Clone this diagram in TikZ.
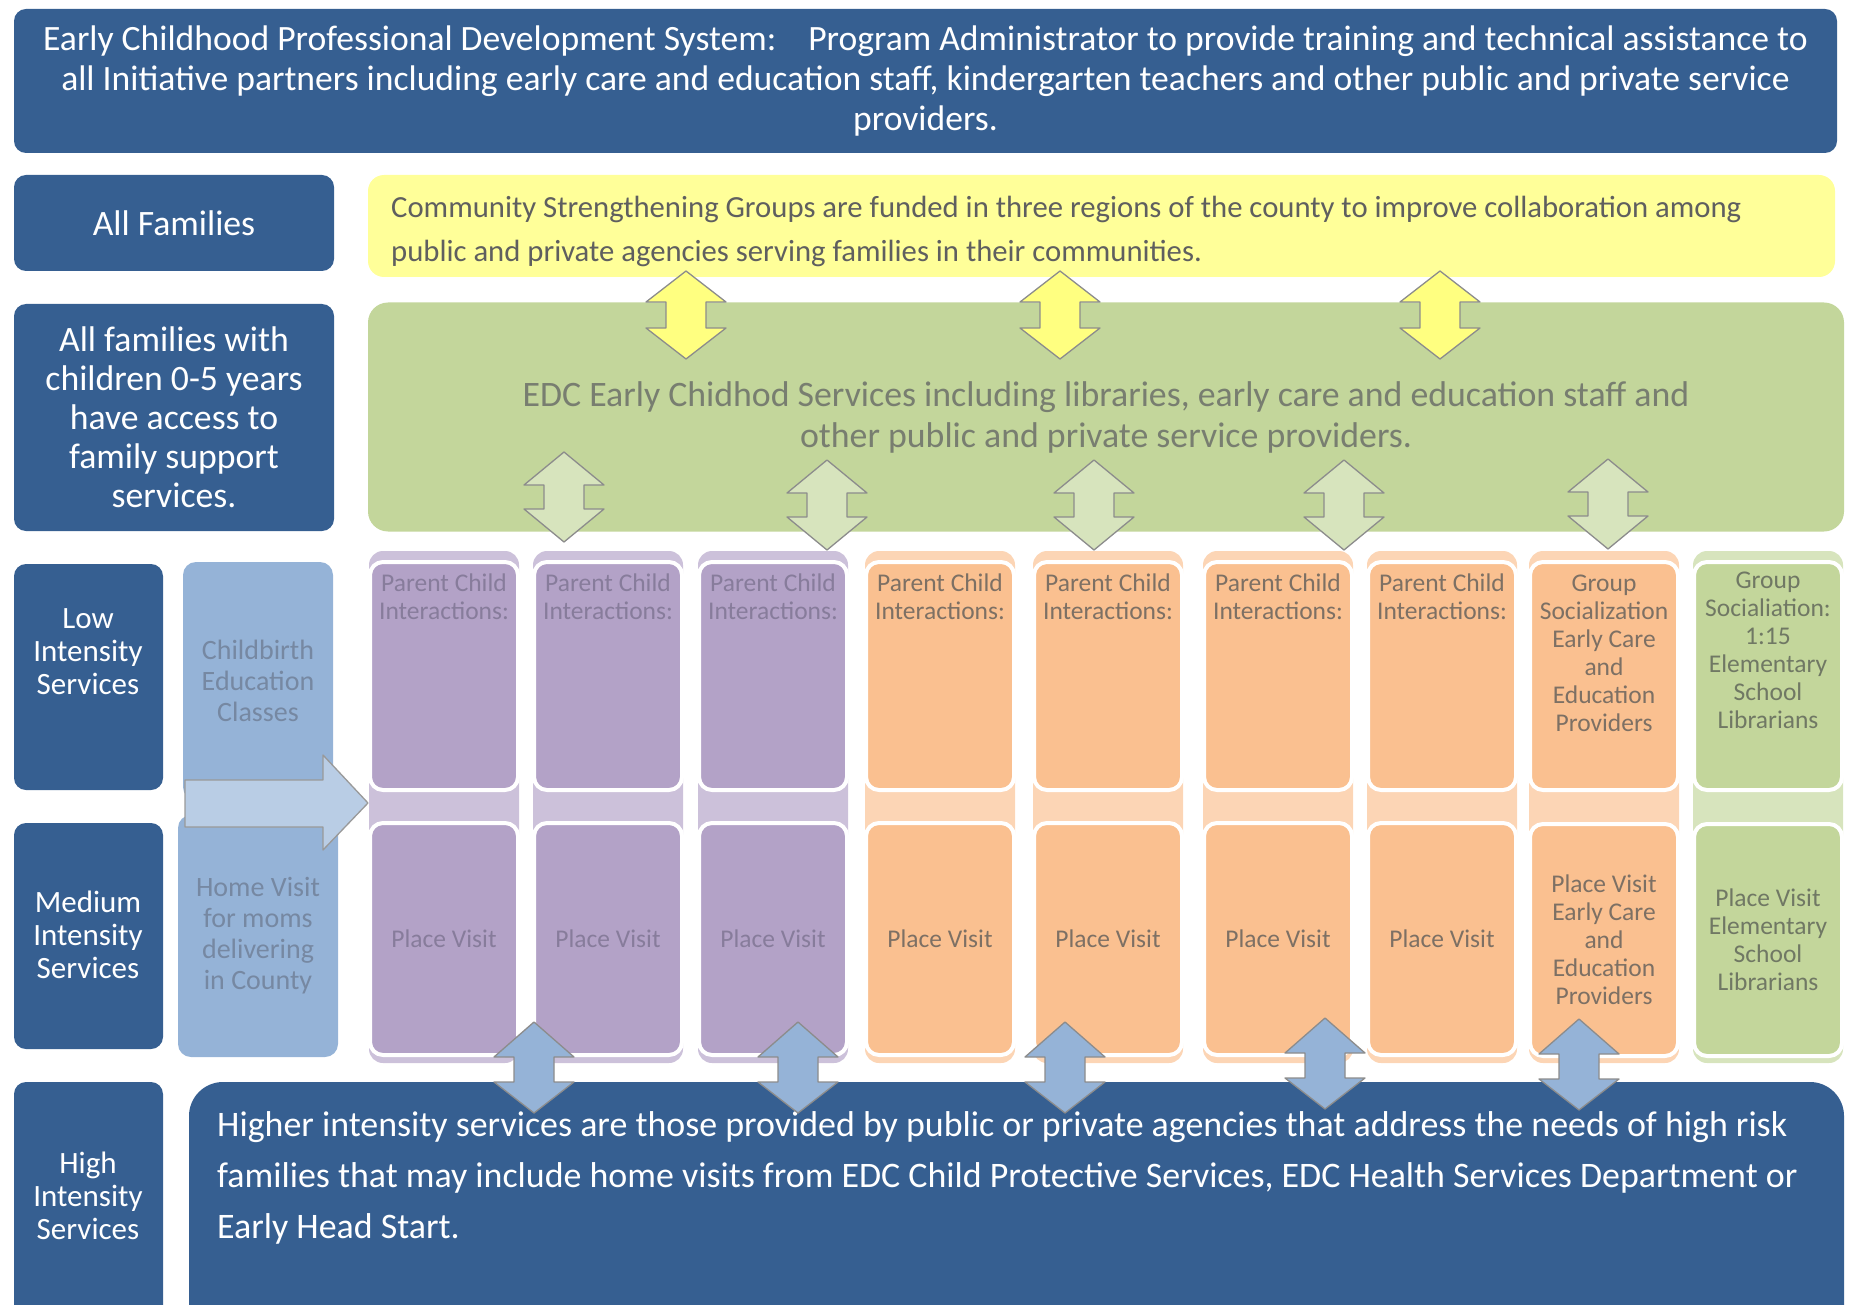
\documentclass[tikz,border=0pt]{standalone}
\usepackage{fontspec}
\setmainfont{Carlito}

\begin{document}
\begin{tikzpicture}[x=1pt,y=-1pt,line join=round,
  navybox/.style={fill=navy,rounded corners=12pt,text=white,align=center,inner sep=0pt},
  cell/.style={draw=white,line width=4pt,rounded corners=13pt,minimum width=148pt,
    align=center,inner sep=0pt,font=\fontsize{25.5}{28}\selectfont},
  celltext/.style={align=center,inner sep=0pt,font=\fontsize{25.5}{28}\selectfont},
  labtext/.style={text=white,align=center,inner sep=0pt,font=\fontsize{31}{33}\selectfont},
  dblarrow/.style={draw=black!45,line width=1.3pt}]
  \definecolor{navy}{RGB}{54,95,145}
  \definecolor{yelbox}{RGB}{255,255,153}
  \definecolor{yelarrow}{RGB}{255,255,128}
  \definecolor{greenbox}{RGB}{195,214,155}
  \definecolor{greenarrow}{RGB}{215,228,189}
  \definecolor{purp}{RGB}{179,162,199}
  \definecolor{purpband}{RGB}{204,193,218}
  \definecolor{orng}{RGB}{250,192,144}
  \definecolor{orngband}{RGB}{252,213,181}
  \definecolor{lblue}{RGB}{149,179,215}
  \definecolor{lbluearrow}{RGB}{185,205,229}
  \definecolor{yeltext}{RGB}{95,95,95}
  \definecolor{greentext}{RGB}{120,126,112}
  \definecolor{lbluetext}{RGB}{118,136,162}
  \definecolor{purptext}{RGB}{135,124,155}
  \definecolor{orngtext}{RGB}{125,112,100}
  \definecolor{grntext}{RGB}{112,120,100}

  \useasboundingbox (0,0) rectangle (1849,1305);
  \clip (0,0) rectangle (1849,1305);

  % top banner
  \node[navybox,minimum width=1823pt,minimum height=144pt,
    font=\fontsize{35.6}{40}\selectfont] (pds) at (925.5,81)
    {Early Childhood Professional Development System:\hspace{0.6em} Program Administrator to provide training and technical assistance to\\
     all Initiative partners including early care and education staff, kindergarten teachers and other public and private service\\
     providers.};

  % left column: target groups
  \node[navybox,minimum width=320pt,minimum height=96pt,
    font=\fontsize{35.7}{39}\selectfont] (allfam) at (174,223) {All Families};
  \node[navybox,minimum width=320pt,minimum height=227pt,
    font=\fontsize{35.7}{39}\selectfont] (fam05) at (174,417.5)
    {All families with\\children 0-5 years\\have access to\\family support\\services.};

  % community groups and EDC services
  \node[fill=yelbox,rounded corners=16pt,minimum width=1467pt,minimum height=102pt] (csg) at (1101.5,226) {};
  \node[anchor=west,align=left,inner sep=0pt,text=yeltext,font=\fontsize{30.7}{44}\selectfont] (csgtxt) at (391,231.5)
    {Community Strengthening Groups are funded in three regions of the county to improve collaboration among\\
     public and private agencies serving families in their communities.};
  \node[fill=greenbox,rounded corners=20pt,minimum width=1476pt,minimum height=229pt,
    text=greentext,align=center,font=\fontsize{35.8}{41}\selectfont] (edc) at (1106,417)
    {EDC Early Chidhod Services including libraries, early care and education staff and\\
     other public and private service providers.};

  % ---- service columns ----
  \foreach \n/\x/\fc/\bc/\tc in {1/444/purp/purpband/purptext, 2/608/purp/purpband/purptext,
      3/773/purp/purpband/purptext, 4/940/orng/orngband/orngtext, 5/1108/orng/orngband/orngtext,
      6/1278/orng/orngband/orngtext, 7/1442/orng/orngband/orngtext}{
    \fill[\bc,rounded corners=14pt] (\x-75,551) rectangle (\x+75,1063);
    \node[cell,fill=\fc,minimum height=228pt] (low\n) at (\x,676) {};
    \node[cell,fill=\fc,minimum height=232pt,text=\tc] (med\n) at (\x,939) {Place Visit};
    \node[celltext,text=\tc] (lowtxt\n) at (\x,597) {Parent Child\\Interactions:};
  }
  % early care providers
  \fill[orngband,rounded corners=14pt] (1529,551) rectangle (1679,1063);
  \node[cell,fill=orng,minimum height=228pt] (low8) at (1604,676) {};
  \node[celltext,text=orngtext] (lowtxt8) at (1604,653)
    {Group\\Socialization\\Early Care\\and\\Education\\Providers};
  \node[cell,fill=orng,minimum height=232pt,text=orngtext] (med8) at (1604,940)
    {Place Visit\\Early Care\\and\\Education\\Providers};
  % school librarians
  \fill[greenarrow,rounded corners=14pt] (1693,551) rectangle (1843,1063);
  \node[cell,fill=greenbox,minimum height=228pt] (low9) at (1768,676) {};
  \node[celltext,text=grntext] (lowtxt9) at (1768,650)
    {Group\\Socialiation:\\1:15\\Elementary\\School\\Librarians};
  \node[cell,fill=greenbox,minimum height=232pt,text=grntext] (med9) at (1768,940)
    {Place Visit\\Elementary\\School\\Librarians};

  % childbirth / home visit column
  \node[fill=lblue,rounded corners=13pt,minimum width=150pt,minimum height=238pt,
    text=lbluetext,align=center,font=\fontsize{28}{31}\selectfont] (birth) at (258,681)
    {Childbirth\\Education\\Classes};
  \node[fill=lblue,rounded corners=13pt,minimum width=160pt,minimum height=242pt,
    text=lbluetext,align=center,font=\fontsize{28}{31}\selectfont] (homevis) at (258,936)
    {Home Visit\\for moms\\delivering\\in County};
  \draw[dblarrow,draw=black!40,fill=lbluearrow] (185,780) -- (323,780) -- (323,755) -- (368,803)
    -- (323,850) -- (323,827) -- (185,827) -- cycle;

  % intensity labels
  \node[navybox,minimum width=149pt,minimum height=226pt] (low) at (88.5,677) {};
  \node[labtext] (lowtxt) at (88,652) {Low\\Intensity\\Services};
  \node[navybox,minimum width=149pt,minimum height=226pt] (medium) at (88.5,936) {};
  \node[labtext] (medtxt) at (88,934.5) {Medium\\Intensity\\Services};
  \node[navybox,minimum width=149pt,minimum height=280pt] (high) at (88.5,1222) {};
  \node[labtext] (hightxt) at (88,1196) {High\\Intensity\\Services};

  % high intensity services
  \node[navybox,rounded corners=34pt,minimum width=1655pt,minimum height=280pt] (hisvc) at (1016.5,1222) {};
  \node[anchor=west,align=left,inner sep=0pt,text=white,font=\fontsize{35.9}{51}\selectfont] (hisvctxt) at (217,1177.5)
    {Higher intensity services are those provided by public or private agencies that address the needs of high risk\\
     families that may include home visits from EDC Child Protective Services, EDC Health Services Department or\\
     Early Head Start.};

  % ---- two way arrows ----
  \foreach \x in {686,1060,1440}
    \draw[dblarrow,fill=yelarrow] (\x,271) -- ++(40,31) -- ++(-20,0) -- ++(0,26) -- ++(20,0)
      -- ++(-40,31) -- ++(-40,-31) -- ++(20,0) -- ++(0,-26) -- ++(-20,0) -- cycle;
  \foreach \x/\y in {564/452,827/460,1094/460,1344/460,1608/459}
    \draw[dblarrow,fill=greenarrow] (\x,\y) -- ++(40,33) -- ++(-20,0) -- ++(0,24) -- ++(20,0)
      -- ++(-40,33) -- ++(-40,-33) -- ++(20,0) -- ++(0,-24) -- ++(-20,0) -- cycle;
  \foreach \x/\y in {534/1022,798/1022,1065/1022,1325/1018,1579/1019}
    \draw[dblarrow,fill=lblue] (\x,\y) -- ++(40,35) -- ++(-20,0) -- ++(0,25) -- ++(20,0)
      -- ++(-40,31) -- ++(-40,-31) -- ++(20,0) -- ++(0,-25) -- ++(-20,0) -- cycle;
\end{tikzpicture}
\end{document}
